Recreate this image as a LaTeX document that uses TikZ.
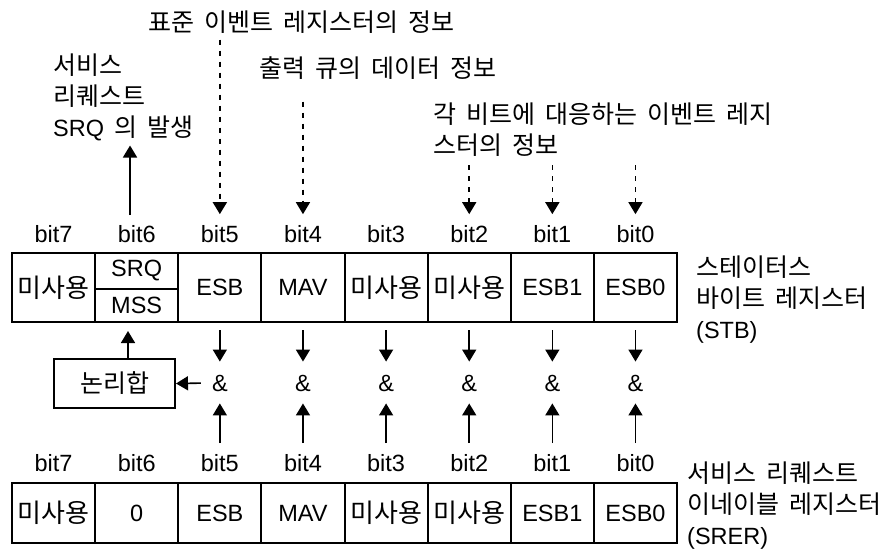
\documentclass[tikz,border=0pt]{standalone}
\usepackage{fontspec}
\setmainfont{Liberation Sans}
\newfontfamily\kr[WordSpace=1.8]{Noto Sans CJK KR}
\newcommand{\lat}[1]{{\normalfont\fontsize{23.5}{31}\selectfont #1}}
\newcommand{\unused}{{\kr\fontsize{26}{31}\selectfont 미사용}}
\usetikzlibrary{positioning,arrows.meta,calc}

\begin{document}
\begin{tikzpicture}[x=1pt, y=-1pt, font=\fontsize{23.5}{31}\selectfont,
    cell/.style={draw, line width=2pt, minimum width=83.125pt, inner sep=0pt},
    bitlbl/.style={inner sep=1pt},
    andop/.style={inner sep=2pt},
    arr/.style={line width=1.6pt, -{Triangle[width=14pt,length=12pt]}},
    dasharr/.style={arr, dash pattern=on 5pt off 6pt},
    note/.style={align=left, inner sep=0pt, anchor=west, font=\kr\fontsize{25}{31}\selectfont}]
    \useasboundingbox (0,0) rectangle (893,551);

    % Status byte register (STB)
    \foreach \b/\txt in {7/\unused, 5/ESB, 4/MAV, 3/\unused, 2/\unused, 1/ESB1, 0/ESB0}
        \node[cell, minimum height=69pt] (stb\b) at ({53.6+(7-\b)*83.125}, 287.5) {\txt};
    \node[cell, minimum height=36pt] (srq) at (136.7, 271) {SRQ};
    \node[cell, minimum height=33pt] (mss) at (136.7, 305.5) {MSS};

    % Service request enable register (SRER)
    \foreach \b/\txt in {7/\unused, 6/0, 5/ESB, 4/MAV, 3/\unused, 2/\unused, 1/ESB1, 0/ESB0}
        \node[cell, minimum height=60pt] (srer\b) at ({53.6+(7-\b)*83.125}, 513) {\txt};

    % bit labels and AND gates
    \foreach \b in {7,...,0} {
        \node[bitlbl] (tl\b) at ({53.6+(7-\b)*83.125}, 234) {bit\b};
        \node[bitlbl] (bl\b) at ({53.6+(7-\b)*83.125}, 463) {bit\b};
    }
    \foreach \b in {5,...,0} {
        \node[andop] (and\b) at ({53.6+(7-\b)*83.125}, 383) {\&};
        \draw[arr, shorten <=7pt, shorten >=11pt] (stb\b.south) -- (and\b.north);
        \draw[arr, shorten <=10pt, shorten >=10pt] (bl\b.north) -- (and\b.south);
    }

    % logical OR
    \node[draw, line width=2pt, minimum width=121pt, minimum height=49pt, inner sep=0pt,
          font=\kr\fontsize{25}{31}\selectfont] (or) at (114.5, 383.5) {논리합};
    \draw[arr, shorten <=9pt] (and5.west) -- (or.east);
    \draw[arr, shorten >=8pt] ([xshift=13.5pt]or.north) -- ([xshift=13.5pt]or.north |- mss.south);

    % notes
    \node[note, anchor=north west] (srqgen) at (53, 54) {서비스\\리퀘스트\\\lat{SRQ} 의 발생};
    \node[note] (stdev) at (148, 22) {표준 이벤트 레지스터의 정보};
    \node[note] (outq) at (259, 68) {출력 큐의 데이터 정보};
    \node[note, anchor=north west] (evreg) at (433, 103) {각 비트에 대응하는 이벤트 레지\\스터의 정보};
    \node[note, anchor=north west] (stbname) at (696, 256) {스테이터스\\바이트 레지스터\\\lat{(STB)}};
    \node[note, anchor=north west] (srername) at (687, 462) {서비스 리퀘스트\\이네이블 레지스터\\\lat{(SRER)}};

    % where the bits come from / go to
    \draw[arr, shorten <=9pt, shorten >=4pt] ([xshift=-6.7pt]tl6.north) -- ([xshift=-6.7pt]tl6.north |- srqgen.south);
    \draw[dasharr, shorten <=6pt, shorten >=10pt] (tl5 |- stdev.south) -- (tl5.north);
    \draw[dasharr, shorten <=22pt, shorten >=10pt] (tl4 |- outq.south) -- (tl4.north);
    \foreach \b in {2,1,0}
        \draw[dasharr, shorten <=8pt, shorten >=10pt] (tl\b |- evreg.south) -- (tl\b.north);
\end{tikzpicture}
\end{document}
